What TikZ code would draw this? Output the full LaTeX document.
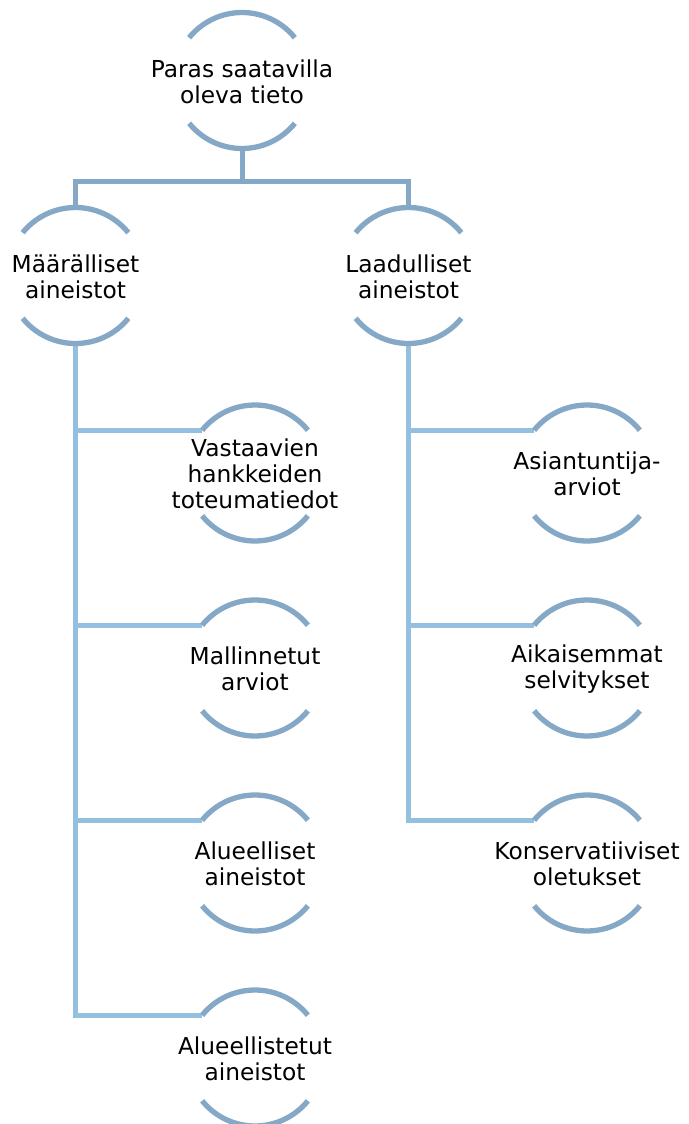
\documentclass[tikz,border=0pt]{standalone}
\usepackage{fontspec}
\setmainfont{DejaVu Sans}
\definecolor{arcc}{HTML}{84A8C6}
\definecolor{connc}{HTML}{95BFDF}
\begin{document}
\begin{tikzpicture}[x=1pt,y=1pt,
  ring/.style={circle,minimum size=136pt,inner sep=0pt,outer sep=0pt},
  lbl/.style={align=center,inner sep=0pt,font=\fontsize{23.3}{26}\selectfont,text=black},
  arcl/.style={draw=arcc,line width=5.3pt},
  connd/.style={draw=arcc,line width=5pt},
  connl/.style={draw=connc,line width=5pt}]
\useasboundingbox (0,0) rectangle (688,-1124);
\clip (0,0) rectangle (688,-1124);
% ring positions
\node[ring] (P) at (242,-80.5) {};
\node[ring] (M) at (75.5,-275.5) {};
\node[ring] (L) at (408.5,-275.5) {};
\node[ring] (A1) at (255,-473) {};
\node[ring] (A2) at (255,-668) {};
\node[ring] (A3) at (255,-863) {};
\node[ring] (A4) at (255,-1058) {};
\node[ring] (B1) at (587,-473) {};
\node[ring] (B2) at (587,-668) {};
\node[ring] (B3) at (587,-863) {};
\coordinate (bar) at (0,-181);
% connectors
\draw[connd] (P.south) -- (P.south |- bar);
\draw[connd] (M.north) -- (M.north |- bar) -- (L.north |- bar) -- (L.north);
\draw[connl] (M.south) |- (A4.141);
\draw[connl] (M.south |- A1.141) -- (A1.141);
\draw[connl] (M.south |- A2.141) -- (A2.141);
\draw[connl] (M.south |- A3.141) -- (A3.141);
\draw[connl] (L.south) |- (B3.141);
\draw[connl] (L.south |- B1.141) -- (B1.141);
\draw[connl] (L.south |- B2.141) -- (B2.141);
% arcs
\foreach \n in {P,M,L,A1,A2,A3,A4,B1,B2,B3}{
  \draw[arcl] (\n.39) arc[start angle=39,end angle=141,radius=68pt];
  \draw[arcl] (\n.219) arc[start angle=219,end angle=321,radius=68pt];
}
% labels
\node[lbl] (Pt) at ([yshift=-1pt]P.center) {Paras saatavilla\\oleva tieto};
\node[lbl] (Mt) at ([yshift=-1pt]M.center) {Määrälliset\\aineistot};
\node[lbl] (Lt) at ([yshift=-1pt]L.center) {Laadulliset\\aineistot};
\node[lbl] (A1t) at ([yshift=-1pt]A1.center) {Vastaavien\\hankkeiden\\toteumatiedot};
\node[lbl] (A2t) at ([yshift=-1pt]A2.center) {Mallinnetut\\arviot};
\node[lbl] (A3t) at ([yshift=-1pt]A3.center) {Alueelliset\\aineistot};
\node[lbl] (A4t) at ([yshift=-1pt]A4.center) {Alueellistetut\\aineistot};
\node[lbl] (B1t) at ([yshift=-1pt]B1.center) {Asiantuntija-\\arviot};
\node[lbl] (B2t) at ([yshift=-1pt]B2.center) {Aikaisemmat\\selvitykset};
\node[lbl] (B3t) at ([yshift=-1pt]B3.center) {Konservatiiviset\\oletukset};
\end{tikzpicture}
\end{document}
